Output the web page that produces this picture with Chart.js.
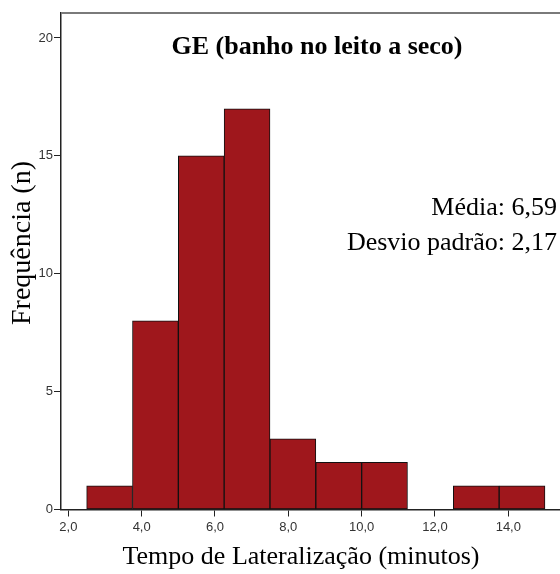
<!DOCTYPE html>
<html>
<head>
<meta charset="utf-8">
<script src="https://cdn.jsdelivr.net/npm/chart.js@4/dist/chart.umd.min.js"></script>
<style>
  html, body { margin: 0; padding: 0; background: #fff; }
  #wrap { width: 560px; height: 574px; }
</style>
</head>
<body>
<div id="wrap"><canvas id="histChart" width="560" height="574"></canvas></div>
<script>
// Histograma - Tempo de Lateralização
const binStart = [2.5, 3.75, 5.0, 6.25, 7.5, 8.75, 10.0, 11.25, 12.5, 13.75];
const binEnd   = [3.75, 5.0, 6.25, 7.5, 8.75, 10.0, 11.25, 12.5, 13.75, 15.0];
const counts   = [1, 8, 15, 17, 3, 2, 2, 0, 1, 1];
const xTicks   = [2, 4, 6, 8, 10, 12, 14];
const yTicks   = [0, 5, 10, 15, 20];
const statLines = ['Média: 6,59', 'Desvio padrão: 2,17'];

const points = binStart.map((s, i) => ({ x: (s + binEnd[i]) / 2, y: counts[i] }));

const serif = '"Liberation Serif", "Times New Roman", serif';

// textos (título, estatísticas, títulos dos eixos) + borda superior
const overlay = {
  id: 'overlay',
  afterDraw(chart) {
    const { ctx, chartArea } = chart;
    ctx.save();
    ctx.strokeStyle = '#7a7a7a';
    ctx.lineWidth = 2;
    ctx.beginPath();
    ctx.moveTo(chartArea.left, chartArea.top);
    ctx.lineTo(chartArea.right, chartArea.top);
    ctx.stroke();

    ctx.fillStyle = '#000';
    ctx.textBaseline = 'middle';
    ctx.textAlign = 'center';
    ctx.font = 'bold 26px ' + serif;
    ctx.fillText('GE (banho no leito a seco)', 317, 47);

    ctx.font = '26px ' + serif;
    ctx.fillText('Tempo de Lateralização (minutos)', 301, 557);

    ctx.save();
    ctx.translate(23, 243);
    ctx.rotate(-Math.PI / 2);
    ctx.font = '28px ' + serif;
    ctx.fillText('Frequência (n)', 0, 0);
    ctx.restore();

    ctx.textAlign = 'right';
    ctx.font = '26px ' + serif;
    ctx.fillText(statLines[0], 557, 208);
    ctx.fillText(statLines[1], 557, 243);
    ctx.restore();
  }
};

const ctx = document.getElementById('histChart').getContext('2d');
new Chart(ctx, {
  type: 'bar',
  data: {
    datasets: [{
      data: points,
      backgroundColor: '#9f171c',
      borderColor: '#111',
      borderWidth: 1,
      borderSkipped: false,
      barPercentage: 1,
      categoryPercentage: 1
    }]
  },
  options: {
    responsive: false,
    animation: false,
    layout: { padding: { top: 13, right: 0, left: 0, bottom: 0 } },
    plugins: {
      legend: { display: false },
      tooltip: { enabled: false }
    },
    scales: {
      x: {
        type: 'linear',
        min: 1.8,
        max: 15.41,
        offset: false,
        afterFit: s => { s.height = 64.5; },
        afterBuildTicks: s => { s.ticks = xTicks.map(v => ({ value: v })); },
        ticks: {
          color: '#333',
          font: { family: 'Liberation Sans, Arial, sans-serif', size: 13 },
          padding: 3,
          callback: v => v.toFixed(1).replace('.', ',')
        },
        grid: { offset: false, drawOnChartArea: false, drawTicks: true, tickLength: 7, color: '#222', lineWidth: 1 },
        border: { display: true, color: '#222', width: 1.5 }
      },
      y: {
        min: 0,
        max: 21.06,
        afterFit: s => { s.width = 61; },
        afterBuildTicks: s => { s.ticks = yTicks.map(v => ({ value: v })); },
        ticks: {
          color: '#333',
          font: { family: 'Liberation Sans, Arial, sans-serif', size: 13 },
          padding: 1
        },
        grid: { drawOnChartArea: false, drawTicks: true, tickLength: 7, color: '#222', lineWidth: 1 },
        border: { display: true, color: '#222', width: 1.5 }
      }
    }
  },
  plugins: [overlay]
});
</script>
</body>
</html>
